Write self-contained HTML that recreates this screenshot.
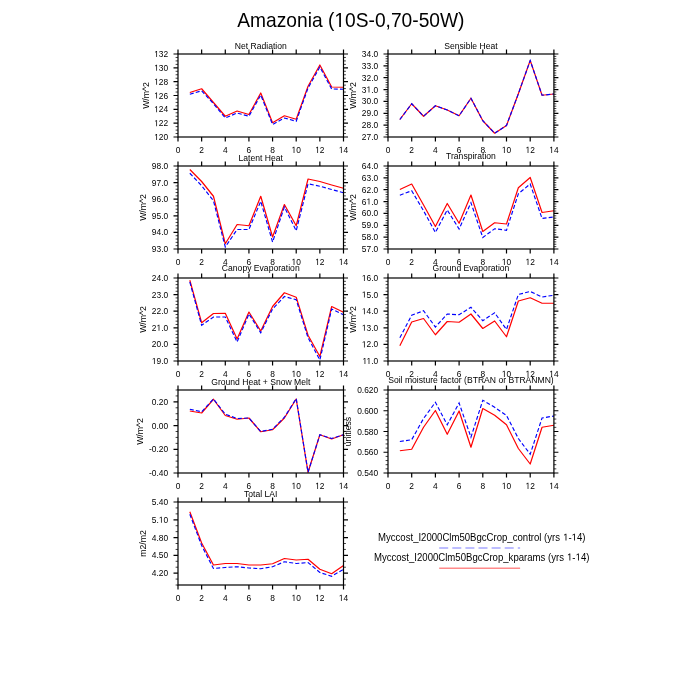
<!DOCTYPE html>
<html><head><meta charset="utf-8"><style>
html,body{margin:0;padding:0;background:#fff;width:700px;height:700px;overflow:hidden}
svg{display:block;will-change:transform}
text{font-family:"Liberation Sans",sans-serif;fill:#000}
.mt{font-size:19.2px}
.tl{font-size:8.4px}
.pt{font-size:8.6px}
.yt{font-size:8.7px}
.lg{font-size:9.6px}
.ax{fill:none;stroke:#000;stroke-width:1.2}
.tk{fill:none;stroke:#000;stroke-width:1.2}
.mk{fill:none;stroke:#000;stroke-width:0.75}
.r{fill:none;stroke:#f00;stroke-width:1.2;stroke-linejoin:round}
.b{fill:none;stroke:#00f;stroke-width:1.15;stroke-dasharray:4 2.2}
</style></head><body>
<svg width="700" height="700" viewBox="0 0 700 700">
<rect width="700" height="700" fill="#fff"/>
<g transform="translate(237.3,26.9) scale(1,1.045)"><text class="mt" x="0.00" y="0" xml:space="preserve">Amazonia (</text><path d="M515,0L696,0L696,1409L530,1409L197,1180L197,1010L515,1237Z" transform="translate(97.11,0) scale(0.00937,-0.00937)"/><text class="mt" x="107.78" y="0" xml:space="preserve">0S-0,70-50W)</text></g>
<polyline class="r" points="189.82,92.5 201.64,88.75 213.46,102.5 225.29,116.25 237.11,111 248.93,114.5 260.75,93 272.57,122.75 284.39,115.75 296.21,119.25 308.04,86.25 319.86,65 331.68,87 343.5,87.25"/>
<polyline class="b" points="189.82,94.25 201.64,90.75 213.46,103.75 225.29,118 237.11,113 248.93,116.25 260.75,95 272.57,124.5 284.39,118 296.21,121.25 308.04,88 319.86,67 331.68,89 343.5,89.25"/>
<rect class="ax" x="178" y="54" width="165.5" height="83"/>
<path class="tk" d="M178,137v4.5M178,54v-4.5M201.64,137v4.5M201.64,54v-4.5M225.29,137v4.5M225.29,54v-4.5M248.93,137v4.5M248.93,54v-4.5M272.57,137v4.5M272.57,54v-4.5M296.21,137v4.5M296.21,54v-4.5M319.86,137v4.5M319.86,54v-4.5M343.5,137v4.5M343.5,54v-4.5M178,137h-4.5M343.5,137h4.5M178,123.17h-4.5M343.5,123.17h4.5M178,109.33h-4.5M343.5,109.33h4.5M178,95.5h-4.5M343.5,95.5h4.5M178,81.67h-4.5M343.5,81.67h4.5M178,67.83h-4.5M343.5,67.83h4.5M178,54h-4.5M343.5,54h4.5"/>
<path class="mk" d="M178,133.54h-2.4M343.5,133.54h2.4M178,130.08h-2.4M343.5,130.08h2.4M178,126.62h-2.4M343.5,126.62h2.4M178,119.71h-2.4M343.5,119.71h2.4M178,116.25h-2.4M343.5,116.25h2.4M178,112.79h-2.4M343.5,112.79h2.4M178,105.88h-2.4M343.5,105.88h2.4M178,102.42h-2.4M343.5,102.42h2.4M178,98.96h-2.4M343.5,98.96h2.4M178,92.04h-2.4M343.5,92.04h2.4M178,88.58h-2.4M343.5,88.58h2.4M178,85.12h-2.4M343.5,85.12h2.4M178,78.21h-2.4M343.5,78.21h2.4M178,74.75h-2.4M343.5,74.75h2.4M178,71.29h-2.4M343.5,71.29h2.4M178,64.38h-2.4M343.5,64.38h2.4M178,60.92h-2.4M343.5,60.92h2.4M178,57.46h-2.4M343.5,57.46h2.4"/>
<text class="tl" transform="translate(178,152.9) scale(1,1.045)" text-anchor="middle">0</text>
<text class="tl" transform="translate(201.64,152.9) scale(1,1.045)" text-anchor="middle">2</text>
<text class="tl" transform="translate(225.29,152.9) scale(1,1.045)" text-anchor="middle">4</text>
<text class="tl" transform="translate(248.93,152.9) scale(1,1.045)" text-anchor="middle">6</text>
<text class="tl" transform="translate(272.57,152.9) scale(1,1.045)" text-anchor="middle">8</text>
<g transform="translate(296.21,152.9) scale(1,1.045)"><path d="M515,0L696,0L696,1409L530,1409L197,1180L197,1010L515,1237Z" transform="translate(-4.67,0) scale(0.00410,-0.00410)"/><text class="tl" x="0.00" y="0" xml:space="preserve">0</text></g>
<g transform="translate(319.86,152.9) scale(1,1.045)"><path d="M515,0L696,0L696,1409L530,1409L197,1180L197,1010L515,1237Z" transform="translate(-4.67,0) scale(0.00410,-0.00410)"/><text class="tl" x="0.00" y="0" xml:space="preserve">2</text></g>
<g transform="translate(343.5,152.9) scale(1,1.045)"><path d="M515,0L696,0L696,1409L530,1409L197,1180L197,1010L515,1237Z" transform="translate(-4.67,0) scale(0.00410,-0.00410)"/><text class="tl" x="0.00" y="0" xml:space="preserve">4</text></g>
<g transform="translate(168.2,140) scale(1,1.045)"><path d="M515,0L696,0L696,1409L530,1409L197,1180L197,1010L515,1237Z" transform="translate(-14.02,0) scale(0.00410,-0.00410)"/><text class="tl" x="-9.34" y="0" xml:space="preserve">20</text></g>
<g transform="translate(168.2,126.17) scale(1,1.045)"><path d="M515,0L696,0L696,1409L530,1409L197,1180L197,1010L515,1237Z" transform="translate(-14.02,0) scale(0.00410,-0.00410)"/><text class="tl" x="-9.34" y="0" xml:space="preserve">22</text></g>
<g transform="translate(168.2,112.33) scale(1,1.045)"><path d="M515,0L696,0L696,1409L530,1409L197,1180L197,1010L515,1237Z" transform="translate(-14.02,0) scale(0.00410,-0.00410)"/><text class="tl" x="-9.34" y="0" xml:space="preserve">24</text></g>
<g transform="translate(168.2,98.5) scale(1,1.045)"><path d="M515,0L696,0L696,1409L530,1409L197,1180L197,1010L515,1237Z" transform="translate(-14.02,0) scale(0.00410,-0.00410)"/><text class="tl" x="-9.34" y="0" xml:space="preserve">26</text></g>
<g transform="translate(168.2,84.67) scale(1,1.045)"><path d="M515,0L696,0L696,1409L530,1409L197,1180L197,1010L515,1237Z" transform="translate(-14.02,0) scale(0.00410,-0.00410)"/><text class="tl" x="-9.34" y="0" xml:space="preserve">28</text></g>
<g transform="translate(168.2,70.83) scale(1,1.045)"><path d="M515,0L696,0L696,1409L530,1409L197,1180L197,1010L515,1237Z" transform="translate(-14.02,0) scale(0.00410,-0.00410)"/><text class="tl" x="-9.34" y="0" xml:space="preserve">30</text></g>
<g transform="translate(168.2,57) scale(1,1.045)"><path d="M515,0L696,0L696,1409L530,1409L197,1180L197,1010L515,1237Z" transform="translate(-14.02,0) scale(0.00410,-0.00410)"/><text class="tl" x="-9.34" y="0" xml:space="preserve">32</text></g>
<text class="pt" transform="translate(260.75,49.3) scale(1,1.045)" text-anchor="middle">Net Radiation</text>
<text class="yt" transform="translate(148.63,95.5) rotate(-90) scale(1,1.045)" text-anchor="middle">W/m^2</text>
<polyline class="r" points="399.85,119.5 411.7,103.75 423.55,116.25 435.4,105.75 447.25,110 459.1,115.75 470.95,98.25 482.8,120.75 494.65,133.25 506.5,125.5 518.35,93.75 530.2,60.5 542.05,95.25 553.9,94"/>
<polyline class="b" points="399.85,119.5 411.7,103.75 423.55,116.25 435.4,105.75 447.25,110 459.1,115.75 470.95,98.25 482.8,120.75 494.65,133.25 506.5,125.5 518.35,93.75 530.2,60.5 542.05,95.25 553.9,94"/>
<rect class="ax" x="388" y="54" width="165.9" height="83"/>
<path class="tk" d="M388,137v4.5M388,54v-4.5M411.7,137v4.5M411.7,54v-4.5M435.4,137v4.5M435.4,54v-4.5M459.1,137v4.5M459.1,54v-4.5M482.8,137v4.5M482.8,54v-4.5M506.5,137v4.5M506.5,54v-4.5M530.2,137v4.5M530.2,54v-4.5M553.9,137v4.5M553.9,54v-4.5M388,137h-4.5M553.9,137h4.5M388,125.14h-4.5M553.9,125.14h4.5M388,113.29h-4.5M553.9,113.29h4.5M388,101.43h-4.5M553.9,101.43h4.5M388,89.57h-4.5M553.9,89.57h4.5M388,77.71h-4.5M553.9,77.71h4.5M388,65.86h-4.5M553.9,65.86h4.5M388,54h-4.5M553.9,54h4.5"/>
<path class="mk" d="M388,134.63h-2.4M553.9,134.63h2.4M388,132.26h-2.4M553.9,132.26h2.4M388,129.89h-2.4M553.9,129.89h2.4M388,127.51h-2.4M553.9,127.51h2.4M388,122.77h-2.4M553.9,122.77h2.4M388,120.4h-2.4M553.9,120.4h2.4M388,118.03h-2.4M553.9,118.03h2.4M388,115.66h-2.4M553.9,115.66h2.4M388,110.91h-2.4M553.9,110.91h2.4M388,108.54h-2.4M553.9,108.54h2.4M388,106.17h-2.4M553.9,106.17h2.4M388,103.8h-2.4M553.9,103.8h2.4M388,99.06h-2.4M553.9,99.06h2.4M388,96.69h-2.4M553.9,96.69h2.4M388,94.31h-2.4M553.9,94.31h2.4M388,91.94h-2.4M553.9,91.94h2.4M388,87.2h-2.4M553.9,87.2h2.4M388,84.83h-2.4M553.9,84.83h2.4M388,82.46h-2.4M553.9,82.46h2.4M388,80.09h-2.4M553.9,80.09h2.4M388,75.34h-2.4M553.9,75.34h2.4M388,72.97h-2.4M553.9,72.97h2.4M388,70.6h-2.4M553.9,70.6h2.4M388,68.23h-2.4M553.9,68.23h2.4M388,63.49h-2.4M553.9,63.49h2.4M388,61.11h-2.4M553.9,61.11h2.4M388,58.74h-2.4M553.9,58.74h2.4M388,56.37h-2.4M553.9,56.37h2.4"/>
<text class="tl" transform="translate(388,152.9) scale(1,1.045)" text-anchor="middle">0</text>
<text class="tl" transform="translate(411.7,152.9) scale(1,1.045)" text-anchor="middle">2</text>
<text class="tl" transform="translate(435.4,152.9) scale(1,1.045)" text-anchor="middle">4</text>
<text class="tl" transform="translate(459.1,152.9) scale(1,1.045)" text-anchor="middle">6</text>
<text class="tl" transform="translate(482.8,152.9) scale(1,1.045)" text-anchor="middle">8</text>
<g transform="translate(506.5,152.9) scale(1,1.045)"><path d="M515,0L696,0L696,1409L530,1409L197,1180L197,1010L515,1237Z" transform="translate(-4.67,0) scale(0.00410,-0.00410)"/><text class="tl" x="0.00" y="0" xml:space="preserve">0</text></g>
<g transform="translate(530.2,152.9) scale(1,1.045)"><path d="M515,0L696,0L696,1409L530,1409L197,1180L197,1010L515,1237Z" transform="translate(-4.67,0) scale(0.00410,-0.00410)"/><text class="tl" x="0.00" y="0" xml:space="preserve">2</text></g>
<g transform="translate(553.9,152.9) scale(1,1.045)"><path d="M515,0L696,0L696,1409L530,1409L197,1180L197,1010L515,1237Z" transform="translate(-4.67,0) scale(0.00410,-0.00410)"/><text class="tl" x="0.00" y="0" xml:space="preserve">4</text></g>
<text class="tl" transform="translate(378.2,140) scale(1,1.045)" text-anchor="end">27.0</text>
<text class="tl" transform="translate(378.2,128.14) scale(1,1.045)" text-anchor="end">28.0</text>
<text class="tl" transform="translate(378.2,116.29) scale(1,1.045)" text-anchor="end">29.0</text>
<text class="tl" transform="translate(378.2,104.43) scale(1,1.045)" text-anchor="end">30.0</text>
<g transform="translate(378.2,92.57) scale(1,1.045)"><text class="tl" x="-16.35" y="0" xml:space="preserve">3</text><path d="M515,0L696,0L696,1409L530,1409L197,1180L197,1010L515,1237Z" transform="translate(-11.68,0) scale(0.00410,-0.00410)"/><text class="tl" x="-7.01" y="0" xml:space="preserve">.0</text></g>
<text class="tl" transform="translate(378.2,80.71) scale(1,1.045)" text-anchor="end">32.0</text>
<text class="tl" transform="translate(378.2,68.86) scale(1,1.045)" text-anchor="end">33.0</text>
<text class="tl" transform="translate(378.2,57) scale(1,1.045)" text-anchor="end">34.0</text>
<text class="pt" transform="translate(470.95,49.3) scale(1,1.045)" text-anchor="middle">Sensible Heat</text>
<text class="yt" transform="translate(355.91,95.5) rotate(-90) scale(1,1.045)" text-anchor="middle">W/m^2</text>
<polyline class="r" points="189.82,169.5 201.64,181.5 213.46,196.25 225.29,243.75 237.11,224.5 248.93,225.75 260.75,196.25 272.57,237 284.39,204.5 296.21,225.75 308.04,179 319.86,181.5 331.68,185 343.5,188.25"/>
<polyline class="b" points="189.82,173.25 201.64,185.75 213.46,200.75 225.29,247 237.11,229.5 248.93,229.5 260.75,201.25 272.57,242 284.39,207 296.21,230.75 308.04,183.75 319.86,186.25 331.68,189.5 343.5,192.75"/>
<rect class="ax" x="178" y="166" width="165.5" height="83"/>
<path class="tk" d="M178,249v4.5M178,166v-4.5M201.64,249v4.5M201.64,166v-4.5M225.29,249v4.5M225.29,166v-4.5M248.93,249v4.5M248.93,166v-4.5M272.57,249v4.5M272.57,166v-4.5M296.21,249v4.5M296.21,166v-4.5M319.86,249v4.5M319.86,166v-4.5M343.5,249v4.5M343.5,166v-4.5M178,249h-4.5M343.5,249h4.5M178,232.4h-4.5M343.5,232.4h4.5M178,215.8h-4.5M343.5,215.8h4.5M178,199.2h-4.5M343.5,199.2h4.5M178,182.6h-4.5M343.5,182.6h4.5M178,166h-4.5M343.5,166h4.5"/>
<path class="mk" d="M178,245.68h-2.4M343.5,245.68h2.4M178,242.36h-2.4M343.5,242.36h2.4M178,239.04h-2.4M343.5,239.04h2.4M178,235.72h-2.4M343.5,235.72h2.4M178,229.08h-2.4M343.5,229.08h2.4M178,225.76h-2.4M343.5,225.76h2.4M178,222.44h-2.4M343.5,222.44h2.4M178,219.12h-2.4M343.5,219.12h2.4M178,212.48h-2.4M343.5,212.48h2.4M178,209.16h-2.4M343.5,209.16h2.4M178,205.84h-2.4M343.5,205.84h2.4M178,202.52h-2.4M343.5,202.52h2.4M178,195.88h-2.4M343.5,195.88h2.4M178,192.56h-2.4M343.5,192.56h2.4M178,189.24h-2.4M343.5,189.24h2.4M178,185.92h-2.4M343.5,185.92h2.4M178,179.28h-2.4M343.5,179.28h2.4M178,175.96h-2.4M343.5,175.96h2.4M178,172.64h-2.4M343.5,172.64h2.4M178,169.32h-2.4M343.5,169.32h2.4"/>
<text class="tl" transform="translate(178,264.9) scale(1,1.045)" text-anchor="middle">0</text>
<text class="tl" transform="translate(201.64,264.9) scale(1,1.045)" text-anchor="middle">2</text>
<text class="tl" transform="translate(225.29,264.9) scale(1,1.045)" text-anchor="middle">4</text>
<text class="tl" transform="translate(248.93,264.9) scale(1,1.045)" text-anchor="middle">6</text>
<text class="tl" transform="translate(272.57,264.9) scale(1,1.045)" text-anchor="middle">8</text>
<g transform="translate(296.21,264.9) scale(1,1.045)"><path d="M515,0L696,0L696,1409L530,1409L197,1180L197,1010L515,1237Z" transform="translate(-4.67,0) scale(0.00410,-0.00410)"/><text class="tl" x="0.00" y="0" xml:space="preserve">0</text></g>
<g transform="translate(319.86,264.9) scale(1,1.045)"><path d="M515,0L696,0L696,1409L530,1409L197,1180L197,1010L515,1237Z" transform="translate(-4.67,0) scale(0.00410,-0.00410)"/><text class="tl" x="0.00" y="0" xml:space="preserve">2</text></g>
<g transform="translate(343.5,264.9) scale(1,1.045)"><path d="M515,0L696,0L696,1409L530,1409L197,1180L197,1010L515,1237Z" transform="translate(-4.67,0) scale(0.00410,-0.00410)"/><text class="tl" x="0.00" y="0" xml:space="preserve">4</text></g>
<text class="tl" transform="translate(168.2,252) scale(1,1.045)" text-anchor="end">93.0</text>
<text class="tl" transform="translate(168.2,235.4) scale(1,1.045)" text-anchor="end">94.0</text>
<text class="tl" transform="translate(168.2,218.8) scale(1,1.045)" text-anchor="end">95.0</text>
<text class="tl" transform="translate(168.2,202.2) scale(1,1.045)" text-anchor="end">96.0</text>
<text class="tl" transform="translate(168.2,185.6) scale(1,1.045)" text-anchor="end">97.0</text>
<text class="tl" transform="translate(168.2,169) scale(1,1.045)" text-anchor="end">98.0</text>
<text class="pt" transform="translate(260.75,161.3) scale(1,1.045)" text-anchor="middle">Latent Heat</text>
<text class="yt" transform="translate(146.03,207.5) rotate(-90) scale(1,1.045)" text-anchor="middle">W/m^2</text>
<polyline class="r" points="399.85,189.5 411.7,184 423.55,205 435.4,226.5 447.25,203.5 459.1,223.25 470.95,195 482.8,231.5 494.65,222.75 506.5,224 518.35,187.75 530.2,177.5 542.05,212.5 553.9,210.75"/>
<polyline class="b" points="399.85,195.25 411.7,190.75 423.55,210.75 435.4,232.5 447.25,210 459.1,229 470.95,202.75 482.8,237.5 494.65,228.75 506.5,230.25 518.35,193.75 530.2,184 542.05,218.5 553.9,217"/>
<rect class="ax" x="388" y="166" width="165.9" height="83"/>
<path class="tk" d="M388,249v4.5M388,166v-4.5M411.7,249v4.5M411.7,166v-4.5M435.4,249v4.5M435.4,166v-4.5M459.1,249v4.5M459.1,166v-4.5M482.8,249v4.5M482.8,166v-4.5M506.5,249v4.5M506.5,166v-4.5M530.2,249v4.5M530.2,166v-4.5M553.9,249v4.5M553.9,166v-4.5M388,249h-4.5M553.9,249h4.5M388,237.14h-4.5M553.9,237.14h4.5M388,225.29h-4.5M553.9,225.29h4.5M388,213.43h-4.5M553.9,213.43h4.5M388,201.57h-4.5M553.9,201.57h4.5M388,189.71h-4.5M553.9,189.71h4.5M388,177.86h-4.5M553.9,177.86h4.5M388,166h-4.5M553.9,166h4.5"/>
<path class="mk" d="M388,246.63h-2.4M553.9,246.63h2.4M388,244.26h-2.4M553.9,244.26h2.4M388,241.89h-2.4M553.9,241.89h2.4M388,239.51h-2.4M553.9,239.51h2.4M388,234.77h-2.4M553.9,234.77h2.4M388,232.4h-2.4M553.9,232.4h2.4M388,230.03h-2.4M553.9,230.03h2.4M388,227.66h-2.4M553.9,227.66h2.4M388,222.91h-2.4M553.9,222.91h2.4M388,220.54h-2.4M553.9,220.54h2.4M388,218.17h-2.4M553.9,218.17h2.4M388,215.8h-2.4M553.9,215.8h2.4M388,211.06h-2.4M553.9,211.06h2.4M388,208.69h-2.4M553.9,208.69h2.4M388,206.31h-2.4M553.9,206.31h2.4M388,203.94h-2.4M553.9,203.94h2.4M388,199.2h-2.4M553.9,199.2h2.4M388,196.83h-2.4M553.9,196.83h2.4M388,194.46h-2.4M553.9,194.46h2.4M388,192.09h-2.4M553.9,192.09h2.4M388,187.34h-2.4M553.9,187.34h2.4M388,184.97h-2.4M553.9,184.97h2.4M388,182.6h-2.4M553.9,182.6h2.4M388,180.23h-2.4M553.9,180.23h2.4M388,175.49h-2.4M553.9,175.49h2.4M388,173.11h-2.4M553.9,173.11h2.4M388,170.74h-2.4M553.9,170.74h2.4M388,168.37h-2.4M553.9,168.37h2.4"/>
<text class="tl" transform="translate(388,264.9) scale(1,1.045)" text-anchor="middle">0</text>
<text class="tl" transform="translate(411.7,264.9) scale(1,1.045)" text-anchor="middle">2</text>
<text class="tl" transform="translate(435.4,264.9) scale(1,1.045)" text-anchor="middle">4</text>
<text class="tl" transform="translate(459.1,264.9) scale(1,1.045)" text-anchor="middle">6</text>
<text class="tl" transform="translate(482.8,264.9) scale(1,1.045)" text-anchor="middle">8</text>
<g transform="translate(506.5,264.9) scale(1,1.045)"><path d="M515,0L696,0L696,1409L530,1409L197,1180L197,1010L515,1237Z" transform="translate(-4.67,0) scale(0.00410,-0.00410)"/><text class="tl" x="0.00" y="0" xml:space="preserve">0</text></g>
<g transform="translate(530.2,264.9) scale(1,1.045)"><path d="M515,0L696,0L696,1409L530,1409L197,1180L197,1010L515,1237Z" transform="translate(-4.67,0) scale(0.00410,-0.00410)"/><text class="tl" x="0.00" y="0" xml:space="preserve">2</text></g>
<g transform="translate(553.9,264.9) scale(1,1.045)"><path d="M515,0L696,0L696,1409L530,1409L197,1180L197,1010L515,1237Z" transform="translate(-4.67,0) scale(0.00410,-0.00410)"/><text class="tl" x="0.00" y="0" xml:space="preserve">4</text></g>
<text class="tl" transform="translate(378.2,252) scale(1,1.045)" text-anchor="end">57.0</text>
<text class="tl" transform="translate(378.2,240.14) scale(1,1.045)" text-anchor="end">58.0</text>
<text class="tl" transform="translate(378.2,228.29) scale(1,1.045)" text-anchor="end">59.0</text>
<text class="tl" transform="translate(378.2,216.43) scale(1,1.045)" text-anchor="end">60.0</text>
<g transform="translate(378.2,204.57) scale(1,1.045)"><text class="tl" x="-16.35" y="0" xml:space="preserve">6</text><path d="M515,0L696,0L696,1409L530,1409L197,1180L197,1010L515,1237Z" transform="translate(-11.68,0) scale(0.00410,-0.00410)"/><text class="tl" x="-7.01" y="0" xml:space="preserve">.0</text></g>
<text class="tl" transform="translate(378.2,192.71) scale(1,1.045)" text-anchor="end">62.0</text>
<text class="tl" transform="translate(378.2,180.86) scale(1,1.045)" text-anchor="end">63.0</text>
<text class="tl" transform="translate(378.2,169) scale(1,1.045)" text-anchor="end">64.0</text>
<text class="pt" transform="translate(470.95,159.4) scale(1,1.045)" text-anchor="middle">Transpiration</text>
<text class="yt" transform="translate(356.03,207.5) rotate(-90) scale(1,1.045)" text-anchor="middle">W/m^2</text>
<polyline class="r" points="189.82,280.25 201.64,322.75 213.46,313.5 225.29,313.25 237.11,339 248.93,312 260.75,331 272.57,306.5 284.39,292.75 296.21,297.25 308.04,335.25 319.86,356.5 331.68,306.5 343.5,312.25"/>
<polyline class="b" points="189.82,282 201.64,325.25 213.46,317 225.29,317 237.11,342 248.93,314 260.75,332.75 272.57,309 284.39,296.5 296.21,299.75 308.04,337.75 319.86,360 331.68,309 343.5,314.75"/>
<rect class="ax" x="178" y="278" width="165.5" height="83"/>
<path class="tk" d="M178,361v4.5M178,278v-4.5M201.64,361v4.5M201.64,278v-4.5M225.29,361v4.5M225.29,278v-4.5M248.93,361v4.5M248.93,278v-4.5M272.57,361v4.5M272.57,278v-4.5M296.21,361v4.5M296.21,278v-4.5M319.86,361v4.5M319.86,278v-4.5M343.5,361v4.5M343.5,278v-4.5M178,361h-4.5M343.5,361h4.5M178,344.4h-4.5M343.5,344.4h4.5M178,327.8h-4.5M343.5,327.8h4.5M178,311.2h-4.5M343.5,311.2h4.5M178,294.6h-4.5M343.5,294.6h4.5M178,278h-4.5M343.5,278h4.5"/>
<path class="mk" d="M178,357.68h-2.4M343.5,357.68h2.4M178,354.36h-2.4M343.5,354.36h2.4M178,351.04h-2.4M343.5,351.04h2.4M178,347.72h-2.4M343.5,347.72h2.4M178,341.08h-2.4M343.5,341.08h2.4M178,337.76h-2.4M343.5,337.76h2.4M178,334.44h-2.4M343.5,334.44h2.4M178,331.12h-2.4M343.5,331.12h2.4M178,324.48h-2.4M343.5,324.48h2.4M178,321.16h-2.4M343.5,321.16h2.4M178,317.84h-2.4M343.5,317.84h2.4M178,314.52h-2.4M343.5,314.52h2.4M178,307.88h-2.4M343.5,307.88h2.4M178,304.56h-2.4M343.5,304.56h2.4M178,301.24h-2.4M343.5,301.24h2.4M178,297.92h-2.4M343.5,297.92h2.4M178,291.28h-2.4M343.5,291.28h2.4M178,287.96h-2.4M343.5,287.96h2.4M178,284.64h-2.4M343.5,284.64h2.4M178,281.32h-2.4M343.5,281.32h2.4"/>
<text class="tl" transform="translate(178,376.9) scale(1,1.045)" text-anchor="middle">0</text>
<text class="tl" transform="translate(201.64,376.9) scale(1,1.045)" text-anchor="middle">2</text>
<text class="tl" transform="translate(225.29,376.9) scale(1,1.045)" text-anchor="middle">4</text>
<text class="tl" transform="translate(248.93,376.9) scale(1,1.045)" text-anchor="middle">6</text>
<text class="tl" transform="translate(272.57,376.9) scale(1,1.045)" text-anchor="middle">8</text>
<g transform="translate(296.21,376.9) scale(1,1.045)"><path d="M515,0L696,0L696,1409L530,1409L197,1180L197,1010L515,1237Z" transform="translate(-4.67,0) scale(0.00410,-0.00410)"/><text class="tl" x="0.00" y="0" xml:space="preserve">0</text></g>
<g transform="translate(319.86,376.9) scale(1,1.045)"><path d="M515,0L696,0L696,1409L530,1409L197,1180L197,1010L515,1237Z" transform="translate(-4.67,0) scale(0.00410,-0.00410)"/><text class="tl" x="0.00" y="0" xml:space="preserve">2</text></g>
<g transform="translate(343.5,376.9) scale(1,1.045)"><path d="M515,0L696,0L696,1409L530,1409L197,1180L197,1010L515,1237Z" transform="translate(-4.67,0) scale(0.00410,-0.00410)"/><text class="tl" x="0.00" y="0" xml:space="preserve">4</text></g>
<g transform="translate(168.2,364) scale(1,1.045)"><path d="M515,0L696,0L696,1409L530,1409L197,1180L197,1010L515,1237Z" transform="translate(-16.35,0) scale(0.00410,-0.00410)"/><text class="tl" x="-11.68" y="0" xml:space="preserve">9.0</text></g>
<text class="tl" transform="translate(168.2,347.4) scale(1,1.045)" text-anchor="end">20.0</text>
<g transform="translate(168.2,330.8) scale(1,1.045)"><text class="tl" x="-16.35" y="0" xml:space="preserve">2</text><path d="M515,0L696,0L696,1409L530,1409L197,1180L197,1010L515,1237Z" transform="translate(-11.68,0) scale(0.00410,-0.00410)"/><text class="tl" x="-7.01" y="0" xml:space="preserve">.0</text></g>
<text class="tl" transform="translate(168.2,314.2) scale(1,1.045)" text-anchor="end">22.0</text>
<text class="tl" transform="translate(168.2,297.6) scale(1,1.045)" text-anchor="end">23.0</text>
<text class="tl" transform="translate(168.2,281) scale(1,1.045)" text-anchor="end">24.0</text>
<text class="pt" transform="translate(260.75,271.4) scale(1,1.045)" text-anchor="middle">Canopy Evaporation</text>
<text class="yt" transform="translate(145.91,319.5) rotate(-90) scale(1,1.045)" text-anchor="middle">W/m^2</text>
<polyline class="r" points="399.85,345.75 411.7,322 423.55,318.5 435.4,334.75 447.25,321.5 459.1,322.25 470.95,314 482.8,328.5 494.65,321 506.5,336.75 518.35,301 530.2,297.75 542.05,303.25 553.9,303.25"/>
<polyline class="b" points="399.85,337.75 411.7,315.25 423.55,310.75 435.4,327 447.25,314 459.1,314.75 470.95,307.25 482.8,320.75 494.65,312.75 506.5,329.5 518.35,294.5 530.2,291.5 542.05,297 553.9,295.25"/>
<rect class="ax" x="388" y="278" width="165.9" height="83"/>
<path class="tk" d="M388,361v4.5M388,278v-4.5M411.7,361v4.5M411.7,278v-4.5M435.4,361v4.5M435.4,278v-4.5M459.1,361v4.5M459.1,278v-4.5M482.8,361v4.5M482.8,278v-4.5M506.5,361v4.5M506.5,278v-4.5M530.2,361v4.5M530.2,278v-4.5M553.9,361v4.5M553.9,278v-4.5M388,361h-4.5M553.9,361h4.5M388,344.4h-4.5M553.9,344.4h4.5M388,327.8h-4.5M553.9,327.8h4.5M388,311.2h-4.5M553.9,311.2h4.5M388,294.6h-4.5M553.9,294.6h4.5M388,278h-4.5M553.9,278h4.5"/>
<path class="mk" d="M388,357.68h-2.4M553.9,357.68h2.4M388,354.36h-2.4M553.9,354.36h2.4M388,351.04h-2.4M553.9,351.04h2.4M388,347.72h-2.4M553.9,347.72h2.4M388,341.08h-2.4M553.9,341.08h2.4M388,337.76h-2.4M553.9,337.76h2.4M388,334.44h-2.4M553.9,334.44h2.4M388,331.12h-2.4M553.9,331.12h2.4M388,324.48h-2.4M553.9,324.48h2.4M388,321.16h-2.4M553.9,321.16h2.4M388,317.84h-2.4M553.9,317.84h2.4M388,314.52h-2.4M553.9,314.52h2.4M388,307.88h-2.4M553.9,307.88h2.4M388,304.56h-2.4M553.9,304.56h2.4M388,301.24h-2.4M553.9,301.24h2.4M388,297.92h-2.4M553.9,297.92h2.4M388,291.28h-2.4M553.9,291.28h2.4M388,287.96h-2.4M553.9,287.96h2.4M388,284.64h-2.4M553.9,284.64h2.4M388,281.32h-2.4M553.9,281.32h2.4"/>
<text class="tl" transform="translate(388,376.9) scale(1,1.045)" text-anchor="middle">0</text>
<text class="tl" transform="translate(411.7,376.9) scale(1,1.045)" text-anchor="middle">2</text>
<text class="tl" transform="translate(435.4,376.9) scale(1,1.045)" text-anchor="middle">4</text>
<text class="tl" transform="translate(459.1,376.9) scale(1,1.045)" text-anchor="middle">6</text>
<text class="tl" transform="translate(482.8,376.9) scale(1,1.045)" text-anchor="middle">8</text>
<g transform="translate(506.5,376.9) scale(1,1.045)"><path d="M515,0L696,0L696,1409L530,1409L197,1180L197,1010L515,1237Z" transform="translate(-4.67,0) scale(0.00410,-0.00410)"/><text class="tl" x="0.00" y="0" xml:space="preserve">0</text></g>
<g transform="translate(530.2,376.9) scale(1,1.045)"><path d="M515,0L696,0L696,1409L530,1409L197,1180L197,1010L515,1237Z" transform="translate(-4.67,0) scale(0.00410,-0.00410)"/><text class="tl" x="0.00" y="0" xml:space="preserve">2</text></g>
<g transform="translate(553.9,376.9) scale(1,1.045)"><path d="M515,0L696,0L696,1409L530,1409L197,1180L197,1010L515,1237Z" transform="translate(-4.67,0) scale(0.00410,-0.00410)"/><text class="tl" x="0.00" y="0" xml:space="preserve">4</text></g>
<g transform="translate(378.2,364) scale(1,1.045)"><path d="M515,0L696,0L696,1409L530,1409L197,1180L197,1010L515,1237Z" transform="translate(-15.73,0) scale(0.00410,-0.00410)"/><path d="M515,0L696,0L696,1409L530,1409L197,1180L197,1010L515,1237Z" transform="translate(-11.68,0) scale(0.00410,-0.00410)"/><text class="tl" x="-7.01" y="0" xml:space="preserve">.0</text></g>
<g transform="translate(378.2,347.4) scale(1,1.045)"><path d="M515,0L696,0L696,1409L530,1409L197,1180L197,1010L515,1237Z" transform="translate(-16.35,0) scale(0.00410,-0.00410)"/><text class="tl" x="-11.68" y="0" xml:space="preserve">2.0</text></g>
<g transform="translate(378.2,330.8) scale(1,1.045)"><path d="M515,0L696,0L696,1409L530,1409L197,1180L197,1010L515,1237Z" transform="translate(-16.35,0) scale(0.00410,-0.00410)"/><text class="tl" x="-11.68" y="0" xml:space="preserve">3.0</text></g>
<g transform="translate(378.2,314.2) scale(1,1.045)"><path d="M515,0L696,0L696,1409L530,1409L197,1180L197,1010L515,1237Z" transform="translate(-16.35,0) scale(0.00410,-0.00410)"/><text class="tl" x="-11.68" y="0" xml:space="preserve">4.0</text></g>
<g transform="translate(378.2,297.6) scale(1,1.045)"><path d="M515,0L696,0L696,1409L530,1409L197,1180L197,1010L515,1237Z" transform="translate(-16.35,0) scale(0.00410,-0.00410)"/><text class="tl" x="-11.68" y="0" xml:space="preserve">5.0</text></g>
<g transform="translate(378.2,281) scale(1,1.045)"><path d="M515,0L696,0L696,1409L530,1409L197,1180L197,1010L515,1237Z" transform="translate(-16.35,0) scale(0.00410,-0.00410)"/><text class="tl" x="-11.68" y="0" xml:space="preserve">6.0</text></g>
<text class="pt" transform="translate(470.95,271.4) scale(1,1.045)" text-anchor="middle">Ground Evaporation</text>
<text class="yt" transform="translate(356.29,319.5) rotate(-90) scale(1,1.045)" text-anchor="middle">W/m^2</text>
<polyline class="r" points="189.82,411 201.64,413 213.46,399.25 225.29,415.5 237.11,419.25 248.93,418 260.75,431.75 272.57,429.75 284.39,418 296.21,399 308.04,472.3 319.86,434.75 331.68,439 343.5,434.75"/>
<polyline class="b" points="189.82,409.25 201.64,411.75 213.46,399 225.29,414.25 237.11,418.5 248.93,418 260.75,431.5 272.57,429.25 284.39,417.25 296.21,398.5 308.04,472.3 319.86,434.75 331.68,438.5 343.5,434.75"/>
<rect class="ax" x="178" y="390" width="165.5" height="83"/>
<path class="tk" d="M178,473v4.5M178,390v-4.5M201.64,473v4.5M201.64,390v-4.5M225.29,473v4.5M225.29,390v-4.5M248.93,473v4.5M248.93,390v-4.5M272.57,473v4.5M272.57,390v-4.5M296.21,473v4.5M296.21,390v-4.5M319.86,473v4.5M319.86,390v-4.5M343.5,473v4.5M343.5,390v-4.5M178,473h-4.5M343.5,473h4.5M178,449.29h-4.5M343.5,449.29h4.5M178,425.57h-4.5M343.5,425.57h4.5M178,401.86h-4.5M343.5,401.86h4.5"/>
<path class="mk" d="M178,467.07h-2.4M343.5,467.07h2.4M178,461.14h-2.4M343.5,461.14h2.4M178,455.21h-2.4M343.5,455.21h2.4M178,443.36h-2.4M343.5,443.36h2.4M178,437.43h-2.4M343.5,437.43h2.4M178,431.5h-2.4M343.5,431.5h2.4M178,419.64h-2.4M343.5,419.64h2.4M178,413.71h-2.4M343.5,413.71h2.4M178,407.79h-2.4M343.5,407.79h2.4M178,395.93h-2.4M343.5,395.93h2.4M178,390h-2.4M343.5,390h2.4"/>
<text class="tl" transform="translate(178,488.9) scale(1,1.045)" text-anchor="middle">0</text>
<text class="tl" transform="translate(201.64,488.9) scale(1,1.045)" text-anchor="middle">2</text>
<text class="tl" transform="translate(225.29,488.9) scale(1,1.045)" text-anchor="middle">4</text>
<text class="tl" transform="translate(248.93,488.9) scale(1,1.045)" text-anchor="middle">6</text>
<text class="tl" transform="translate(272.57,488.9) scale(1,1.045)" text-anchor="middle">8</text>
<g transform="translate(296.21,488.9) scale(1,1.045)"><path d="M515,0L696,0L696,1409L530,1409L197,1180L197,1010L515,1237Z" transform="translate(-4.67,0) scale(0.00410,-0.00410)"/><text class="tl" x="0.00" y="0" xml:space="preserve">0</text></g>
<g transform="translate(319.86,488.9) scale(1,1.045)"><path d="M515,0L696,0L696,1409L530,1409L197,1180L197,1010L515,1237Z" transform="translate(-4.67,0) scale(0.00410,-0.00410)"/><text class="tl" x="0.00" y="0" xml:space="preserve">2</text></g>
<g transform="translate(343.5,488.9) scale(1,1.045)"><path d="M515,0L696,0L696,1409L530,1409L197,1180L197,1010L515,1237Z" transform="translate(-4.67,0) scale(0.00410,-0.00410)"/><text class="tl" x="0.00" y="0" xml:space="preserve">4</text></g>
<text class="tl" transform="translate(168.2,476) scale(1,1.045)" text-anchor="end">-0.40</text>
<text class="tl" transform="translate(168.2,452.29) scale(1,1.045)" text-anchor="end">-0.20</text>
<text class="tl" transform="translate(168.2,428.57) scale(1,1.045)" text-anchor="end">0.00</text>
<text class="tl" transform="translate(168.2,404.86) scale(1,1.045)" text-anchor="end">0.20</text>
<text class="pt" transform="translate(260.75,385.3) scale(1,1.045)" text-anchor="middle">Ground Heat + Snow Melt</text>
<text class="yt" transform="translate(143.23,431.5) rotate(-90) scale(1,1.045)" text-anchor="middle">W/m^2</text>
<polyline class="r" points="399.85,450.75 411.7,449.25 423.55,427.25 435.4,410.5 447.25,434.25 459.1,411 470.95,447.25 482.8,408.5 494.65,415.25 506.5,424.75 518.35,448.5 530.2,464 542.05,427.25 553.9,425.25"/>
<polyline class="b" points="399.85,441.5 411.7,439.75 423.55,418.5 435.4,402.25 447.25,424.75 459.1,403 470.95,437.25 482.8,400.25 494.65,407.25 506.5,415.5 518.35,438.5 530.2,454.25 542.05,418 553.9,416"/>
<rect class="ax" x="388" y="390" width="165.9" height="83"/>
<path class="tk" d="M388,473v4.5M388,390v-4.5M411.7,473v4.5M411.7,390v-4.5M435.4,473v4.5M435.4,390v-4.5M459.1,473v4.5M459.1,390v-4.5M482.8,473v4.5M482.8,390v-4.5M506.5,473v4.5M506.5,390v-4.5M530.2,473v4.5M530.2,390v-4.5M553.9,473v4.5M553.9,390v-4.5M388,473h-4.5M553.9,473h4.5M388,452.25h-4.5M553.9,452.25h4.5M388,431.5h-4.5M553.9,431.5h4.5M388,410.75h-4.5M553.9,410.75h4.5M388,390h-4.5M553.9,390h4.5"/>
<path class="mk" d="M388,468.85h-2.4M553.9,468.85h2.4M388,464.7h-2.4M553.9,464.7h2.4M388,460.55h-2.4M553.9,460.55h2.4M388,456.4h-2.4M553.9,456.4h2.4M388,448.1h-2.4M553.9,448.1h2.4M388,443.95h-2.4M553.9,443.95h2.4M388,439.8h-2.4M553.9,439.8h2.4M388,435.65h-2.4M553.9,435.65h2.4M388,427.35h-2.4M553.9,427.35h2.4M388,423.2h-2.4M553.9,423.2h2.4M388,419.05h-2.4M553.9,419.05h2.4M388,414.9h-2.4M553.9,414.9h2.4M388,406.6h-2.4M553.9,406.6h2.4M388,402.45h-2.4M553.9,402.45h2.4M388,398.3h-2.4M553.9,398.3h2.4M388,394.15h-2.4M553.9,394.15h2.4"/>
<text class="tl" transform="translate(388,488.9) scale(1,1.045)" text-anchor="middle">0</text>
<text class="tl" transform="translate(411.7,488.9) scale(1,1.045)" text-anchor="middle">2</text>
<text class="tl" transform="translate(435.4,488.9) scale(1,1.045)" text-anchor="middle">4</text>
<text class="tl" transform="translate(459.1,488.9) scale(1,1.045)" text-anchor="middle">6</text>
<text class="tl" transform="translate(482.8,488.9) scale(1,1.045)" text-anchor="middle">8</text>
<g transform="translate(506.5,488.9) scale(1,1.045)"><path d="M515,0L696,0L696,1409L530,1409L197,1180L197,1010L515,1237Z" transform="translate(-4.67,0) scale(0.00410,-0.00410)"/><text class="tl" x="0.00" y="0" xml:space="preserve">0</text></g>
<g transform="translate(530.2,488.9) scale(1,1.045)"><path d="M515,0L696,0L696,1409L530,1409L197,1180L197,1010L515,1237Z" transform="translate(-4.67,0) scale(0.00410,-0.00410)"/><text class="tl" x="0.00" y="0" xml:space="preserve">2</text></g>
<g transform="translate(553.9,488.9) scale(1,1.045)"><path d="M515,0L696,0L696,1409L530,1409L197,1180L197,1010L515,1237Z" transform="translate(-4.67,0) scale(0.00410,-0.00410)"/><text class="tl" x="0.00" y="0" xml:space="preserve">4</text></g>
<text class="tl" transform="translate(378.2,476) scale(1,1.045)" text-anchor="end">0.540</text>
<text class="tl" transform="translate(378.2,455.25) scale(1,1.045)" text-anchor="end">0.560</text>
<text class="tl" transform="translate(378.2,434.5) scale(1,1.045)" text-anchor="end">0.580</text>
<text class="tl" transform="translate(378.2,413.75) scale(1,1.045)" text-anchor="end">0.600</text>
<text class="tl" transform="translate(378.2,393) scale(1,1.045)" text-anchor="end">0.620</text>
<text class="pt" transform="translate(470.95,383.4) scale(1,1.045)" text-anchor="middle">Soil moisture factor (BTRAN or BTRANMN)</text>
<text class="yt" transform="translate(351.42,431.5) rotate(-90) scale(1,1.045)" text-anchor="middle">unitless</text>
<polyline class="r" points="189.82,511.75 201.64,543 213.46,565 225.29,563.5 237.11,563.5 248.93,565 260.75,565 272.57,563.75 284.39,558.5 296.21,560 308.04,559.25 319.86,569.25 331.68,573.75 343.5,565.5"/>
<polyline class="b" points="189.82,514.25 201.64,545.5 213.46,568.5 225.29,567.5 237.11,566.75 248.93,568 260.75,568.75 272.57,566.75 284.39,561.75 296.21,563.5 308.04,562.5 319.86,572.5 331.68,576.25 343.5,569.25"/>
<rect class="ax" x="178" y="502" width="165.5" height="83"/>
<path class="tk" d="M178,585v4.5M178,502v-4.5M201.64,585v4.5M201.64,502v-4.5M225.29,585v4.5M225.29,502v-4.5M248.93,585v4.5M248.93,502v-4.5M272.57,585v4.5M272.57,502v-4.5M296.21,585v4.5M296.21,502v-4.5M319.86,585v4.5M319.86,502v-4.5M343.5,585v4.5M343.5,502v-4.5M178,573.14h-4.5M343.5,573.14h4.5M178,555.36h-4.5M343.5,555.36h4.5M178,537.57h-4.5M343.5,537.57h4.5M178,519.79h-4.5M343.5,519.79h4.5M178,502h-4.5M343.5,502h4.5"/>
<path class="mk" d="M178,585h-2.4M343.5,585h2.4M178,579.07h-2.4M343.5,579.07h2.4M178,567.21h-2.4M343.5,567.21h2.4M178,561.29h-2.4M343.5,561.29h2.4M178,549.43h-2.4M343.5,549.43h2.4M178,543.5h-2.4M343.5,543.5h2.4M178,531.64h-2.4M343.5,531.64h2.4M178,525.71h-2.4M343.5,525.71h2.4M178,513.86h-2.4M343.5,513.86h2.4M178,507.93h-2.4M343.5,507.93h2.4"/>
<text class="tl" transform="translate(178,600.9) scale(1,1.045)" text-anchor="middle">0</text>
<text class="tl" transform="translate(201.64,600.9) scale(1,1.045)" text-anchor="middle">2</text>
<text class="tl" transform="translate(225.29,600.9) scale(1,1.045)" text-anchor="middle">4</text>
<text class="tl" transform="translate(248.93,600.9) scale(1,1.045)" text-anchor="middle">6</text>
<text class="tl" transform="translate(272.57,600.9) scale(1,1.045)" text-anchor="middle">8</text>
<g transform="translate(296.21,600.9) scale(1,1.045)"><path d="M515,0L696,0L696,1409L530,1409L197,1180L197,1010L515,1237Z" transform="translate(-4.67,0) scale(0.00410,-0.00410)"/><text class="tl" x="0.00" y="0" xml:space="preserve">0</text></g>
<g transform="translate(319.86,600.9) scale(1,1.045)"><path d="M515,0L696,0L696,1409L530,1409L197,1180L197,1010L515,1237Z" transform="translate(-4.67,0) scale(0.00410,-0.00410)"/><text class="tl" x="0.00" y="0" xml:space="preserve">2</text></g>
<g transform="translate(343.5,600.9) scale(1,1.045)"><path d="M515,0L696,0L696,1409L530,1409L197,1180L197,1010L515,1237Z" transform="translate(-4.67,0) scale(0.00410,-0.00410)"/><text class="tl" x="0.00" y="0" xml:space="preserve">4</text></g>
<text class="tl" transform="translate(168.2,576.14) scale(1,1.045)" text-anchor="end">4.20</text>
<text class="tl" transform="translate(168.2,558.36) scale(1,1.045)" text-anchor="end">4.50</text>
<text class="tl" transform="translate(168.2,540.57) scale(1,1.045)" text-anchor="end">4.80</text>
<g transform="translate(168.2,522.79) scale(1,1.045)"><text class="tl" x="-16.35" y="0" xml:space="preserve">5.</text><path d="M515,0L696,0L696,1409L530,1409L197,1180L197,1010L515,1237Z" transform="translate(-9.34,0) scale(0.00410,-0.00410)"/><text class="tl" x="-4.67" y="0" xml:space="preserve">0</text></g>
<text class="tl" transform="translate(168.2,505) scale(1,1.045)" text-anchor="end">5.40</text>
<text class="pt" transform="translate(260.75,497.3) scale(1,1.045)" text-anchor="middle">Total LAI</text>
<text class="yt" transform="translate(145.79,543.5) rotate(-90) scale(1,1.045)" text-anchor="middle">m2/m2</text>
<g transform="translate(378,540.6) scale(1,1.045)"><text class="lg" x="0.00" y="0" xml:space="preserve">Myccost_I2000Clm50BgcCrop_control (yrs </text><path d="M515,0L696,0L696,1409L530,1409L197,1180L197,1010L515,1237Z" transform="translate(185.14,0) scale(0.00469,-0.00469)"/><text class="lg" x="190.48" y="0" xml:space="preserve">-</text><path d="M515,0L696,0L696,1409L530,1409L197,1180L197,1010L515,1237Z" transform="translate(193.67,0) scale(0.00469,-0.00469)"/><text class="lg" x="199.01" y="0" xml:space="preserve">4)</text></g>
<line x1="439.2" y1="548" x2="520.1" y2="548" stroke="#a8a8ff" stroke-width="1.4" stroke-dasharray="9 4.1"/>
<g transform="translate(373.9,560.5) scale(1,1.045)"><text class="lg" x="0.00" y="0" xml:space="preserve">Myccost_I2000Clm50BgcCrop_kparams (yrs </text><path d="M515,0L696,0L696,1409L530,1409L197,1180L197,1010L515,1237Z" transform="translate(193.13,0) scale(0.00469,-0.00469)"/><text class="lg" x="198.47" y="0" xml:space="preserve">-</text><path d="M515,0L696,0L696,1409L530,1409L197,1180L197,1010L515,1237Z" transform="translate(201.67,0) scale(0.00469,-0.00469)"/><text class="lg" x="207.01" y="0" xml:space="preserve">4)</text></g>
<line x1="439.2" y1="568.2" x2="520.1" y2="568.2" stroke="#ff8a8a" stroke-width="1.4"/>
</svg>
</body></html>
